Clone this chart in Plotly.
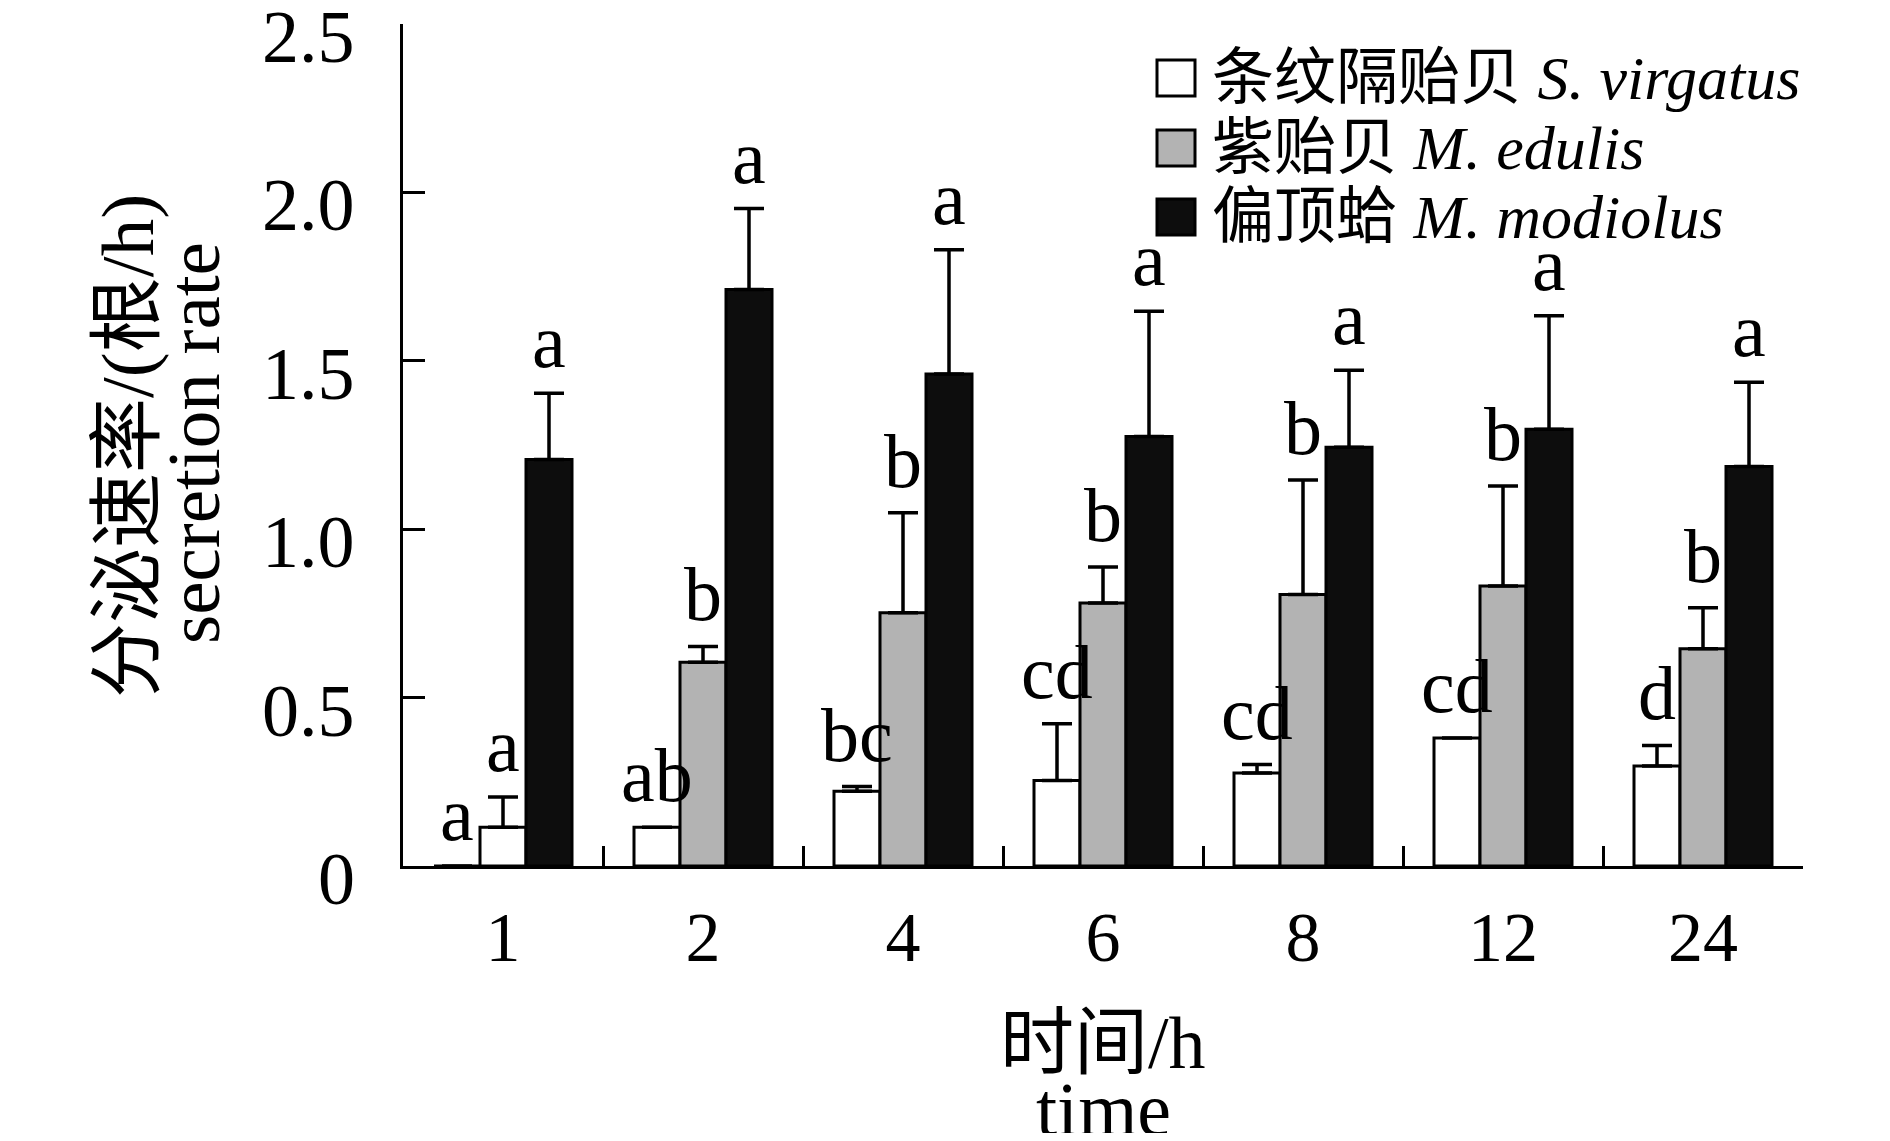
import plotly.graph_objects as go

# time points (h)
hours = ['1', '2', '4', '6', '8', '12', '24']

# secretion rate (threads/h)
sv_mean = [0.0, 0.115, 0.222, 0.254, 0.276, 0.38, 0.297]
sv_err = [None, None, 0.014, 0.168, 0.025, None, 0.061]
sv_sig = ['a', 'ab', 'bc', 'cd', 'cd', 'cd', 'd']

me_mean = [0.115, 0.605, 0.752, 0.781, 0.806, 0.831, 0.645]
me_err = [0.09, 0.047, 0.297, 0.107, 0.34, 0.297, 0.122]
me_sig = ['a', 'b', 'b', 'b', 'b', 'b', 'b']

mm_mean = [1.207, 1.712, 1.461, 1.275, 1.243, 1.297, 1.186]
mm_err = [0.197, 0.24, 0.369, 0.372, 0.229, 0.337, 0.25]
mm_sig = ['a', 'a', 'a', 'a', 'a', 'a', 'a']

names = ['条纹隔贻贝 <i>S. virgatus</i>', '紫贻贝 <i>M. edulis</i>', '偏顶蛤 <i>M. modiolus</i>']
colors = ['white', '#b3b3b3', '#0d0d0d']
# first M. edulis bar is drawn white in the original
me_colors = ['white'] + ['#b3b3b3'] * (len(hours) - 1)

yticks = [0, 0.5, 1.0, 1.5, 2.0, 2.5]
ytick_text = ['0', '0.5', '1.0', '1.5', '2.0', '2.5']

FONT = 'Liberation Serif, Times New Roman, Noto Sans CJK SC, serif'
OFF = 8  # default body margin of the html page
W, H = 1890 - 2 * OFF, 1141 - 2 * OFF
ML, MR, MT, MB = 395, 79, 16, 267
BARGAP = 0.31

plot_w = W - ML - MR
plot_h = H - MT - MB


def px(xi):
    # screen x (px) -> paper x
    return (xi - OFF - ML) / plot_w


def py(yi):
    # screen y (px) -> paper y
    return (H - MB - (yi - OFF)) / plot_h


series = [
    (sv_mean, sv_err, sv_sig, ['white'] * len(hours)),
    (me_mean, me_err, me_sig, me_colors),
    (mm_mean, mm_err, mm_sig, ['#0d0d0d'] * len(hours)),
]

fig = go.Figure()
for i, (m, e, s, c) in enumerate(series):
    fig.add_trace(go.Bar(
        x=hours, y=m, name=names[i],
        marker=dict(color=c, line=dict(color='black', width=3)),
        error_y=dict(type='data', array=e, arrayminus=[0] * len(e), symmetric=False,
                     color='black', thickness=3.5, width=15),
        showlegend=False,
    ))

# significance letters above each error bar
group_px = plot_w / len(hours)
bar_px = group_px * (1 - BARGAP) / 3
annotations = []
for i, (m, e, s, c) in enumerate(series):
    for j, h in enumerate(hours):
        top = m[j] + (e[j] or 0)
        annotations.append(dict(
            x=j, y=top, xref='x', yref='y', text=s[j], showarrow=False,
            xshift=(i - 1) * bar_px, yanchor='bottom', yshift=8,
            font=dict(family=FONT, size=76, color='black'),
        ))

# y tick labels sit a little below their ticks in the original
for v, t in zip(yticks, ytick_text):
    annotations.append(dict(x=px(357), y=v, xref='paper', yref='y', text=t, showarrow=False,
                            xanchor='right', yanchor='middle', yshift=-13,
                            font=dict(family=FONT, size=74, color='black')))

# legend drawn by hand so the swatches can be large
shapes = []
leg_rows = [78, 148, 217]
for i, yy in enumerate(leg_rows):
    shapes.append(dict(type='rect', xref='paper', yref='paper',
                       x0=px(1157), x1=px(1195), y0=py(yy + 18), y1=py(yy - 18),
                       fillcolor=colors[i], line=dict(color='black', width=3)))
    annotations.append(dict(x=px(1210), y=py(yy), xref='paper', yref='paper',
                            text=names[i], showarrow=False, xanchor='left', yanchor='middle',
                            font=dict(family=FONT, size=62, color='black')))

# axis titles (two lines each, set separately to keep tight spacing)
annotations += [
    dict(x=px(127), y=py(446), xref='paper', yref='paper', text='分泌速率/(根/h)',
         textangle=-90, showarrow=False, xanchor='center', yanchor='middle',
         font=dict(family=FONT, size=75, color='black')),
    dict(x=px(193), y=py(443), xref='paper', yref='paper', text='secretion rate',
         textangle=-90, showarrow=False, xanchor='center', yanchor='middle',
         font=dict(family=FONT, size=75, color='black')),
    dict(x=0.5, y=py(1043), xref='paper', yref='paper', text='时间/h',
         showarrow=False, xanchor='center', yanchor='middle',
         font=dict(family=FONT, size=74, color='black')),
    dict(x=0.5, y=py(1109), xref='paper', yref='paper', text='time',
         showarrow=False, xanchor='center', yanchor='middle',
         font=dict(family=FONT, size=76, color='black')),
]

fig.update_layout(
    width=W, height=H,
    margin=dict(l=ML, r=MR, t=MT, b=MB),
    paper_bgcolor='white', plot_bgcolor='white',
    barmode='group', bargap=BARGAP, bargroupgap=0,
    font=dict(family=FONT, color='black'),
    annotations=annotations, shapes=shapes,
)
fig.update_xaxes(type='category', range=[-0.5, len(hours) - 0.5], showline=True,
                 linecolor='black', linewidth=3, tickangle=0,
                 ticks='inside', tickson='boundaries', ticklen=20, tickwidth=3, tickcolor='black',
                 tickfont=dict(family=FONT, size=70), ticklabelstandoff=8,
                 showgrid=False, zeroline=False, automargin=False)
fig.update_yaxes(range=[0, 2.5], tickvals=yticks, showticklabels=False,
                 showline=True, linecolor='black', linewidth=3,
                 ticks='inside', ticklen=22, tickwidth=3, tickcolor='black',
                 showgrid=False, zeroline=False, automargin=False)

fig.write_html("out.html")
